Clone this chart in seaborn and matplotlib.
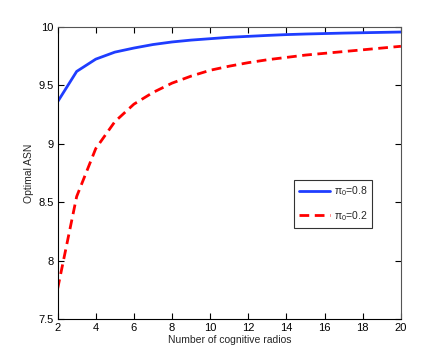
import matplotlib
matplotlib.use("Agg")
import matplotlib.pyplot as plt
import seaborn as sns
import pandas as pd

radios = list(range(2, 21))
asn_08 = [9.36, 9.62, 9.725, 9.785, 9.82, 9.85, 9.872, 9.888, 9.90, 9.912, 9.92, 9.928, 9.935, 9.94, 9.944, 9.948, 9.951, 9.954, 9.957]
asn_02 = [7.76, 8.55, 8.96, 9.19, 9.34, 9.44, 9.52, 9.58, 9.63, 9.665, 9.695, 9.72, 9.74, 9.76, 9.775, 9.79, 9.805, 9.82, 9.835]
labels = [r"$\pi_0$=0.8", r"$\pi_0$=0.2"]

df = pd.DataFrame({
    "radios": radios * 2,
    "asn": asn_08 + asn_02,
    "series": [labels[0]] * len(radios) + [labels[1]] * len(radios),
})

sns.set_style("ticks", {"xtick.direction": "in", "ytick.direction": "in"})
plt.rcParams["font.family"] = ["Liberation Sans", "DejaVu Sans"]
plt.rcParams["mathtext.fontset"] = "custom"
plt.rcParams["mathtext.rm"] = "Liberation Sans"
plt.rcParams["mathtext.it"] = "Liberation Sans"

fig = plt.figure(figsize=(4.43, 3.6), dpi=100)
ax = fig.add_axes([0.13, 0.113, 0.775, 0.812])

sns.lineplot(data=df, x="radios", y="asn", hue="series", style="series",
             palette=["#1f3dff", "#ff0000"], dashes=[(None, None), (3.5, 2)],
             linewidth=2.0, ax=ax, legend=True)

ax.set_xlim(2, 20)
ax.set_ylim(7.5, 10)
ax.set_xticks(range(2, 21, 2))
ax.set_yticks([7.5, 8, 8.5, 9, 9.5, 10])
ax.set_yticklabels(["7.5", "8", "8.5", "9", "9.5", "10"])
ax.set_xlabel("Number of cognitive radios", fontsize=7.5, labelpad=1)
ax.set_ylabel("Optimal ASN", fontsize=7.5, labelpad=3)
ax.tick_params(axis="both", which="major", direction="in", length=4, width=0.8,
               labelsize=8, pad=3, color="black", labelcolor="black",
               top=True, right=True, bottom=True, left=True)
for s in ax.spines.values():
    s.set_visible(True)
    s.set_color("black")
    s.set_linewidth(0.8)
ax.spines["top"].set_color("#555555")
ax.spines["right"].set_color("#555555")

leg = ax.legend(loc="upper left", bbox_to_anchor=(0.69, 0.478), fontsize=7.5,
                frameon=True, fancybox=False, edgecolor="black",
                handlelength=3.0, handletextpad=0.3, borderpad=0.45, labelspacing=1.05,
                borderaxespad=0)
leg.get_frame().set_linewidth(0.8)

fig.savefig("out.png", dpi=100)
